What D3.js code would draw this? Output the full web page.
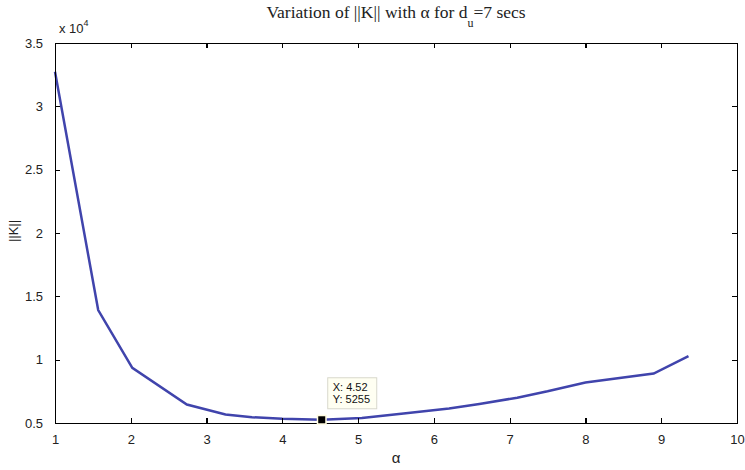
<!DOCTYPE html>
<html>
  <head>
    <meta charset="utf-8">
    <style type="text/css">
      body { margin: 0; background: #fff; }
      .axis path, .axis line {
        fill: none;
        stroke: #000;
        stroke-width: 1.3;
        shape-rendering: crispEdges;
      }
      .axis text {
        font-family: Arial, "Liberation Sans", sans-serif;
        font-size: 13px;
        fill: #222;
      }
      path.line {
        fill: none;
        stroke: rgb(64, 68, 172);
        stroke-width: 2.5;
      }
    </style>
  </head>
  <body>
    <div id="chart"></div>
    <script src="https://d3js.org/d3.v7.min.js"></script>
    <script>
    // data
    var alphaValues = [1, 1.57, 2.02, 2.74, 3.25, 3.6, 4.0, 4.52, 5.05, 5.6, 6.2, 6.6, 7.1, 7.5, 8.0, 8.9, 9.36];
    var normK = [32730, 13920, 9360, 6460, 5670, 5460, 5330, 5255, 5400, 5750, 6150, 6500, 7000, 7500, 8200, 8900, 10280];
    var xTicks = [1, 2, 3, 4, 5, 6, 7, 8, 9, 10];
    var yTicks = [5000, 10000, 15000, 20000, 25000, 30000, 35000];
    var tipX = 4.52, tipY = 5255;

    var margin = {top: 43, right: 8, bottom: 47, left: 55},
        width = 745 - margin.left - margin.right,
        height = 470 - margin.top - margin.bottom;

    var x = d3.scaleLinear().domain([1, 10]).range([0, width]);
    var y = d3.scaleLinear().domain([5000, 35000]).range([height, 0]);

    var svg = d3.select("#chart").append("svg")
        .attr("width", 745)
        .attr("height", 470)
      .append("g")
        .attr("transform", "translate(" + margin.left + "," + margin.top + ")");

    // the line
    var valueline = d3.line()
      .x(function(d, i) { return x(alphaValues[i]); })
      .y(function(d) { return y(d); });

    svg.append("path")
      .attr("class", "line")
      .attr("d", valueline(normK));

    // axes, ticks pointing inwards on all four sides
    svg.append("g")
      .attr("class", "axis")
      .attr("transform", "translate(0," + height + ")")
      .call(d3.axisBottom(x).tickValues(xTicks).tickSizeInner(-5).tickSizeOuter(0).tickPadding(12).tickFormat(d3.format("d")));

    svg.append("g")
      .attr("class", "axis")
      .call(d3.axisTop(x).tickValues(xTicks).tickSizeInner(-5).tickSizeOuter(0).tickFormat(""));

    svg.append("g")
      .attr("class", "axis")
      .call(d3.axisLeft(y).tickValues(yTicks).tickSizeInner(-5).tickSizeOuter(0).tickPadding(12)
        .tickFormat(function(d) { return d / 10000; }));

    svg.append("g")
      .attr("class", "axis")
      .attr("transform", "translate(" + width + ",0)")
      .call(d3.axisRight(y).tickValues(yTicks).tickSizeInner(-5).tickSizeOuter(0).tickFormat(""));

    // exponent label
    var expo = svg.append("text")
      .attr("x", 4)
      .attr("y", -10)
      .style("font-family", "Arial, 'Liberation Sans', sans-serif")
      .style("font-size", "13px")
      .attr("fill", "#222");
    expo.append("tspan").text("x 10");
    expo.append("tspan").attr("dy", -7).style("font-size", "9px").text("4");

    // title
    var title = svg.append("text")
      .attr("x", width / 2)
      .attr("y", -25)
      .attr("text-anchor", "middle")
      .style("font-family", "'Liberation Serif', 'Times New Roman', serif")
      .style("font-size", "17.5px")
      .attr("fill", "#222");
    title.append("tspan").text("Variation of ||K|| with \u03b1 for d");
    title.append("tspan").attr("dy", 9).style("font-size", "12px").text("u");
    title.append("tspan").attr("dy", -9).text("=7 secs");

    // axis labels
    svg.append("text")
      .attr("x", width / 2)
      .attr("y", height + 40)
      .attr("text-anchor", "middle")
      .style("font-family", "Arial, 'Liberation Sans', sans-serif")
      .style("font-size", "15px")
      .attr("fill", "#222")
      .text("\u03b1");

    svg.append("text")
      .attr("transform", "translate(-37," + (height / 2 - 2) + ") rotate(-90)")
      .attr("text-anchor", "middle")
      .style("font-family", "Arial, 'Liberation Sans', sans-serif")
      .style("font-size", "13px")
      .attr("fill", "#222")
      .text("||K||");

    // data tip
    var tx = x(tipX), ty = y(tipY);
    svg.append("rect")
      .attr("x", tx + 6)
      .attr("y", ty - 42)
      .attr("width", 49)
      .attr("height", 31)
      .attr("fill", "#fffff2")
      .attr("stroke", "#d8d8cc")
      .attr("stroke-width", 1);
    var tip = svg.append("text")
      .attr("x", tx + 11)
      .attr("y", ty - 29)
      .style("font-family", "Arial, 'Liberation Sans', sans-serif")
      .style("font-size", "11px")
      .attr("fill", "#111");
    tip.append("tspan").text("X: " + tipX);
    tip.append("tspan").attr("x", tx + 11).attr("dy", 12).text("Y: " + tipY);

    svg.append("rect")
      .attr("x", tx - 5)
      .attr("y", ty - 5)
      .attr("width", 10)
      .attr("height", 10)
      .attr("fill", "#fffbe0");
    svg.append("rect")
      .attr("x", tx - 3.5)
      .attr("y", ty - 3.5)
      .attr("width", 7)
      .attr("height", 7)
      .attr("fill", "#000");
    </script>
  </body>
</html>
